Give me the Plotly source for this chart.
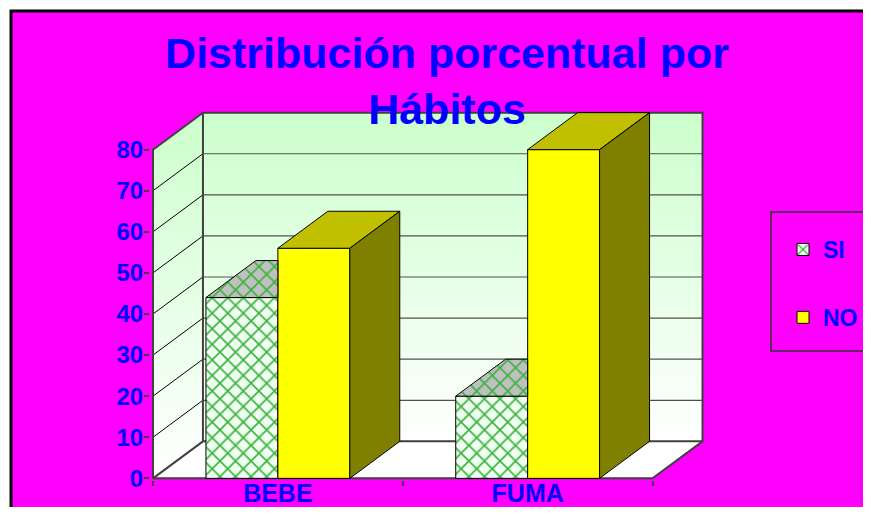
import plotly.graph_objects as go

# ---------------- data ----------------
categories = ["BEBE", "FUMA"]
series_names = ["SI", "NO"]
si_values = [44, 20]
no_values = [56, 80]
y_tick_values = [0, 10, 20, 30, 40, 50, 60, 70, 80]

# ---------------- style / geometry constants ----------------
# page body has an 8px margin, so the figure is sized to fill the window
OFF = 8
W, H = 871 - 2 * OFF, 515 - 2 * OFF
M_L, M_R, M_T, M_B = 142, 158, 103, 27
X_RANGE = [-0.012, 2.21]
Y_RANGE = [-0.4, 89.4]
BAR_W = 0.288          # width of each bar (category units)
DX, DY = 0.2, 9.0      # 3-D depth offset (x units, y units)
N = len(categories)
Y_MAX = y_tick_values[-1]

FONT = "Arial, Liberation Sans, sans-serif"
BLUE = "#0000ff"
MAGENTA = "#ff00ff"
EDGE = "#404040"

plot_w = W - M_L - M_R
plot_h = H - M_T - M_B


def px2x(px):          # window px -> paper x
    return (px - OFF - M_L) / plot_w


def py2y(py):          # window px -> paper y
    return (H - M_B - (py - OFF)) / plot_h


xc = [i + 0.5 for i in range(N)]

fig = go.Figure()

# ---------------- walls (base subplot) ----------------
wall_grad = dict(type="vertical", colorscale=[[0, "#ffffff"], [1, "#ccffcc"]])

fig.add_trace(go.Scatter(   # side wall
    x=[0, 0, DX, DX, 0], y=[0, Y_MAX, Y_MAX + DY, DY, 0],
    fill="toself", fillgradient=wall_grad, mode="lines",
    line=dict(width=0), showlegend=False, hoverinfo="skip"))
fig.add_trace(go.Scatter(   # back wall
    x=[DX, N + DX, N + DX, DX, DX], y=[DY, DY, Y_MAX + DY, Y_MAX + DY, DY],
    fill="toself", fillgradient=wall_grad, mode="lines",
    line=dict(width=0), showlegend=False, hoverinfo="skip"))
fig.add_trace(go.Scatter(   # floor
    x=[0, N, N + DX, DX, 0], y=[0, 0, DY, DY, 0],
    fill="toself", fillcolor="#ffffff", mode="lines",
    line=dict(width=0), showlegend=False, hoverinfo="skip"))

gx_back, gy_back, gx_side, gy_side = [], [], [], []
for v in y_tick_values[1:-1]:
    gx_back += [DX, N + DX, None]
    gy_back += [v + DY, v + DY, None]
    gx_side += [0, DX, None]
    gy_side += [v, v + DY, None]
fig.add_trace(go.Scatter(x=gx_back, y=gy_back, mode="lines",
                         line=dict(color="#505050", width=1.2),
                         showlegend=False, hoverinfo="skip"))
fig.add_trace(go.Scatter(x=gx_side, y=gy_side, mode="lines",
                         line=dict(color="#000000", width=1),
                         showlegend=False, hoverinfo="skip"))

ex = [0, 0, DX, N + DX, N + DX, DX, DX, None,
      0, N, N + DX, None,
      0, DX, None]
ey = [0, Y_MAX, Y_MAX + DY, Y_MAX + DY, DY, DY, Y_MAX + DY, None,
      0, 0, DY, None,
      0, DY, None]
fig.add_trace(go.Scatter(x=ex, y=ey, mode="lines",
                         line=dict(color=EDGE, width=2),
                         showlegend=False, hoverinfo="skip"))

# ---------------- bars (overlay subplot) ----------------
GREEN = "#3cb43c"
si_pattern = dict(shape="x", fgcolor=GREEN, bgcolor="#effff0",
                  size=11, solidity=0.28)
fig.add_trace(go.Bar(
    x=xc, y=si_values, width=BAR_W, offset=-BAR_W, name=series_names[0],
    marker=dict(color="#effff0", pattern=si_pattern,
                line=dict(color="#000000", width=1)),
    yaxis="y2", legendgroup="si", hoverinfo="skip"))
fig.add_trace(go.Bar(
    x=xc, y=no_values, width=BAR_W, offset=0, name=series_names[1],
    marker=dict(color="#ffff00", line=dict(color="#000000", width=1)),
    yaxis="y2", legendgroup="no", hoverinfo="skip"))

for c, s, n in zip(xc, si_values, no_values):
    fig.add_trace(go.Scatter(   # visible part of SI top
        x=[c - BAR_W, c, c, c - BAR_W + DX, c - BAR_W],
        y=[s, s, s + DY, s + DY, s],
        fill="toself", fillcolor="#c0c0c0",
        fillpattern=dict(shape="x", fgcolor=GREEN, bgcolor="#c0c0c0",
                         size=11, solidity=0.28),
        mode="lines", line=dict(color="#000000", width=1),
        yaxis="y2", showlegend=False, hoverinfo="skip"))
    fig.add_trace(go.Scatter(   # NO top
        x=[c, c + BAR_W, c + BAR_W + DX, c + DX, c],
        y=[n, n, n + DY, n + DY, n],
        fill="toself", fillcolor="#c0c000", mode="lines",
        line=dict(color="#000000", width=1),
        yaxis="y2", showlegend=False, hoverinfo="skip"))
    fig.add_trace(go.Scatter(   # NO side
        x=[c + BAR_W, c + BAR_W, c + BAR_W + DX, c + BAR_W + DX, c + BAR_W],
        y=[0, n, n + DY, DY, 0],
        fill="toself", fillcolor="#808000", mode="lines",
        line=dict(color="#000000", width=1),
        yaxis="y2", showlegend=False, hoverinfo="skip"))

# ---------------- layout ----------------
tick_font_y = dict(family=FONT, size=24, color=BLUE, weight="bold")
tick_font_x = dict(family=FONT, size=25, color=BLUE, weight="bold")

fig.update_layout(
    template="none",
    width=W, height=H,
    margin=dict(l=M_L, r=M_R, t=M_T, b=M_B, pad=0, autoexpand=False),
    paper_bgcolor="#ffffff",
    plot_bgcolor="rgba(0,0,0,0)",
    barmode="overlay",
    title=dict(text="Distribución porcentual por<br>Hábitos",
               font=dict(family=FONT, size=43, color=BLUE, weight="bold"),
               x=(447 - OFF) / W, xref="container", xanchor="center",
               y=1 - (68 - OFF) / H, yref="container", yanchor="top"),
    xaxis=dict(range=X_RANGE, tickvals=xc, ticktext=categories, ticks="",
               showgrid=False, zeroline=False, showline=False,
               automargin=False, ticklabelstandoff=-4,
               tickfont=tick_font_x, fixedrange=True,
               minor=dict(tickvals=list(range(N + 1)), ticks="outside",
                          ticklen=5, tickwidth=2, tickcolor=EDGE,
                          showgrid=False)),
    yaxis=dict(range=Y_RANGE, tickvals=y_tick_values, ticks="outside",
               ticklen=5, tickwidth=2, tickcolor=EDGE,
               showgrid=False, zeroline=False, showline=False,
               automargin=False, ticklabelstandoff=-4,
               tickfont=tick_font_y, fixedrange=True),
    yaxis2=dict(range=Y_RANGE, overlaying="y", visible=False,
                fixedrange=True),
    legend=dict(xref="container", yref="container",
                x=(783 - OFF) / W, y=1 - (228 - OFF) / H,
                xanchor="left", yanchor="top",
                bgcolor="rgba(0,0,0,0)", borderwidth=0,
                font=dict(family=FONT, size=23, color=BLUE, weight="bold"),
                traceorder="grouped", tracegroupgap=35),
    shapes=[
        dict(type="rect", xref="paper", yref="paper", layer="below",
             x0=px2x(11), x1=px2x(910), y0=py2y(11), y1=py2y(560),
             fillcolor=MAGENTA, line=dict(color="#000000", width=3)),
        dict(type="rect", xref="paper", yref="paper", layer="below",
             x0=px2x(771), x1=px2x(910), y0=py2y(212), y1=py2y(351),
             fillcolor="rgba(0,0,0,0)", line=dict(color="#333333", width=1.5)),
    ],
)

fig.write_html("out.html")
